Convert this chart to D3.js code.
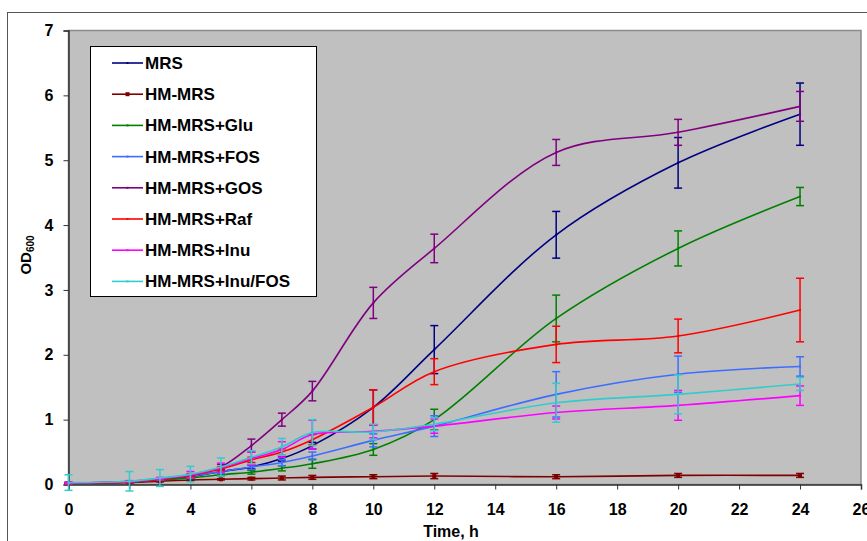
<!DOCTYPE html>
<html>
<head>
<meta charset="utf-8">
<script src="https://cdn.jsdelivr.net/npm/d3@7"></script>
<style>
  body { margin: 0; background: #fff; }
  svg text { font-family: "Liberation Sans", Arial, sans-serif; font-weight: bold; fill: #000; }
</style>
</head>
<body>
<svg id="chart" width="867" height="541"></svg>
<script>
// sampling times (h)
const times = [0, 2, 3, 4, 5, 6, 7, 8, 10, 12, 16, 20, 24];
const xTicks = [0, 2, 4, 6, 8, 10, 12, 14, 16, 18, 20, 22, 24, 26];
const yTicks = [0, 1, 2, 3, 4, 5, 6, 7];

const seriesNames = ["MRS", "HM-MRS", "HM-MRS+Glu", "HM-MRS+FOS", "HM-MRS+GOS", "HM-MRS+Raf", "HM-MRS+Inu", "HM-MRS+Inu/FOS"];
const seriesColors = ["#000080", "#800000", "#008000", "#3d6dff", "#800080", "#ff0000", "#ff00ff", "#33cccc"];

// OD600 means
const mrs     = [0.02, 0.04, 0.07, 0.12, 0.20, 0.27, 0.40, 0.60, 1.19, 2.08, 3.85, 4.96, 5.71];
const hmMrs   = [0.02, 0.03, 0.05, 0.07, 0.08, 0.09, 0.10, 0.11, 0.12, 0.13, 0.12, 0.14, 0.14];
const glu     = [0.02, 0.04, 0.07, 0.10, 0.15, 0.19, 0.25, 0.32, 0.54, 1.00, 2.56, 3.64, 4.44];
const fos     = [0.02, 0.04, 0.08, 0.13, 0.20, 0.27, 0.34, 0.44, 0.68, 0.90, 1.39, 1.70, 1.82];
const gos     = [0.02, 0.04, 0.08, 0.14, 0.27, 0.60, 1.00, 1.44, 2.80, 3.64, 5.12, 5.43, 5.83];
const raf     = [0.02, 0.04, 0.08, 0.14, 0.24, 0.38, 0.50, 0.69, 1.19, 1.74, 2.16, 2.29, 2.69];
const inu     = [0.02, 0.05, 0.09, 0.15, 0.26, 0.40, 0.54, 0.77, 0.82, 0.90, 1.11, 1.22, 1.37];
const inuFos  = [0.03, 0.05, 0.10, 0.16, 0.27, 0.42, 0.58, 0.80, 0.81, 0.93, 1.26, 1.39, 1.55];

// standard deviations
const mrsErr    = [0.01, 0.01, 0.01, 0.02, 0.03, 0.03, 0.04, 0.05, 0.27, 0.37, 0.36, 0.39, 0.48];
const hmMrsErr  = [0.01, 0.01, 0.01, 0.01, 0.01, 0.02, 0.03, 0.03, 0.03, 0.04, 0.03, 0.03, 0.03];
const gluErr    = [0.01, 0.01, 0.01, 0.01, 0.02, 0.03, 0.04, 0.07, 0.09, 0.16, 0.36, 0.27, 0.14];
const fosErr    = [0.01, 0.01, 0.01, 0.02, 0.03, 0.04, 0.05, 0.06, 0.10, 0.16, 0.35, 0.28, 0.15];
const gosErr    = [0.01, 0.01, 0.01, 0.02, 0.04, 0.10, 0.10, 0.15, 0.24, 0.22, 0.20, 0.20, 0.23];
const rafErr    = [0.01, 0.01, 0.01, 0.02, 0.03, 0.04, 0.05, 0.08, 0.27, 0.20, 0.28, 0.26, 0.49];
const inuErr    = [0.01, 0.01, 0.02, 0.05, 0.07, 0.10, 0.12, 0.22, 0.10, 0.11, 0.10, 0.23, 0.15];
const inuFosErr = [0.12, 0.15, 0.13, 0.12, 0.14, 0.10, 0.13, 0.20, 0.12, 0.10, 0.30, 0.30, 0.10];

const allValues = [mrs, hmMrs, glu, fos, gos, raf, inu, inuFos];
const allErrors = [mrsErr, hmMrsErr, gluErr, fosErr, gosErr, rafErr, inuErr, inuFosErr];

let svg = d3.select("#chart");

// outer chart frame (cut off on the right and bottom like the picture)
svg.append("rect")
    .attr("x", 7.5).attr("y", 12.5)
    .attr("width", 900).attr("height", 600)
    .attr("fill", "#fff")
    .attr("stroke", "#555").attr("stroke-width", 1);

let plotLeft = 68.5, plotRight = 861, plotTop = 30.5, plotBottom = 484.5;

let x = d3.scaleLinear().domain([0, 26]).range([plotLeft, plotRight]);
let y = d3.scaleLinear().domain([0, 7]).range([plotBottom, plotTop]);

// plot area
svg.append("rect")
    .attr("x", plotLeft).attr("y", plotTop)
    .attr("width", plotRight - plotLeft).attr("height", plotBottom - plotTop)
    .attr("fill", "#c0c0c0")
    .attr("stroke", "#8a8a8a").attr("stroke-width", 1.5);

// axes
let yAxis = d3.axisLeft(y).tickValues(yTicks).tickSize(5).tickPadding(10).tickFormat(d3.format("d"));
let gy = svg.append("g").attr("transform", "translate(" + plotLeft + ",0)").call(yAxis);
gy.selectAll("text").style("font-size", "16px");

let xAxis = d3.axisBottom(x).tickValues(xTicks).tickSize(5).tickPadding(14).tickFormat(d3.format("d"));
let gx = svg.append("g").attr("transform", "translate(0," + plotBottom + ")").call(xAxis);
gx.selectAll("text").style("font-size", "16px");

svg.selectAll(".domain").attr("stroke", "#333").attr("stroke-width", 1.5);
svg.selectAll(".tick line").attr("stroke", "#333");

// axis titles
let yLab = svg.append("text")
    .attr("transform", "translate(31,255) rotate(-90)")
    .attr("text-anchor", "middle")
    .style("font-size", "15px");
yLab.append("tspan").text("OD");
yLab.append("tspan").text("600").style("font-size", "10px").attr("dy", 3);

svg.append("text")
    .attr("x", 451).attr("y", 537)
    .attr("text-anchor", "middle")
    .style("font-size", "16px")
    .text("Time, h");

// series lines, error bars, markers
let line = d3.line()
    .x(d => x(d.t))
    .y(d => y(d.v))
    .curve(d3.curveCatmullRom.alpha(0.5));

seriesNames.forEach(function(name, i) {
    let pts = times.map((t, j) => ({t: t, v: allValues[i][j], e: allErrors[i][j]}));
    let color = seriesColors[i];
    let g = svg.append("g");

    // error bars
    let eb = g.selectAll(".eb").data(pts).enter().append("g");
    eb.append("line")
        .attr("x1", d => x(d.t)).attr("x2", d => x(d.t))
        .attr("y1", d => y(d.v + d.e)).attr("y2", d => y(d.v - d.e))
        .attr("stroke", color).attr("stroke-width", 1.5);
    eb.append("line")
        .attr("x1", d => x(d.t) - 4).attr("x2", d => x(d.t) + 4)
        .attr("y1", d => y(d.v + d.e)).attr("y2", d => y(d.v + d.e))
        .attr("stroke", color).attr("stroke-width", 1.5);
    eb.append("line")
        .attr("x1", d => x(d.t) - 4).attr("x2", d => x(d.t) + 4)
        .attr("y1", d => y(d.v - d.e)).attr("y2", d => y(d.v - d.e))
        .attr("stroke", color).attr("stroke-width", 1.5);

    g.append("path")
        .datum(pts)
        .attr("d", line)
        .attr("fill", "none")
        .attr("stroke", color)
        .attr("stroke-width", 1.6);

    let ms = (i === 1) ? 4 : 2;
    g.selectAll(".mk").data(pts).enter().append("rect")
        .attr("x", d => x(d.t) - ms / 2).attr("y", d => y(d.v) - ms / 2)
        .attr("width", ms).attr("height", ms)
        .attr("fill", color);
});

// legend
let legend = svg.append("g");
legend.append("rect")
    .attr("x", 90.5).attr("y", 46.5)
    .attr("width", 226).attr("height", 250)
    .attr("fill", "#fff")
    .attr("stroke", "#000").attr("stroke-width", 1);

seriesNames.forEach(function(name, i) {
    let ly = 63 + i * 31.2;
    legend.append("line")
        .attr("x1", 112).attr("x2", 143)
        .attr("y1", ly).attr("y2", ly)
        .attr("stroke", seriesColors[i]).attr("stroke-width", 1.6);
    let ms = (i === 1) ? 4 : 2;
    legend.append("rect")
        .attr("x", 127.5 - ms / 2).attr("y", ly - ms / 2)
        .attr("width", ms).attr("height", ms)
        .attr("fill", seriesColors[i]);
    legend.append("text")
        .attr("x", 145).attr("y", ly + 6)
        .style("font-size", "17px")
        .text(name);
});
</script>
</body>
</html>
